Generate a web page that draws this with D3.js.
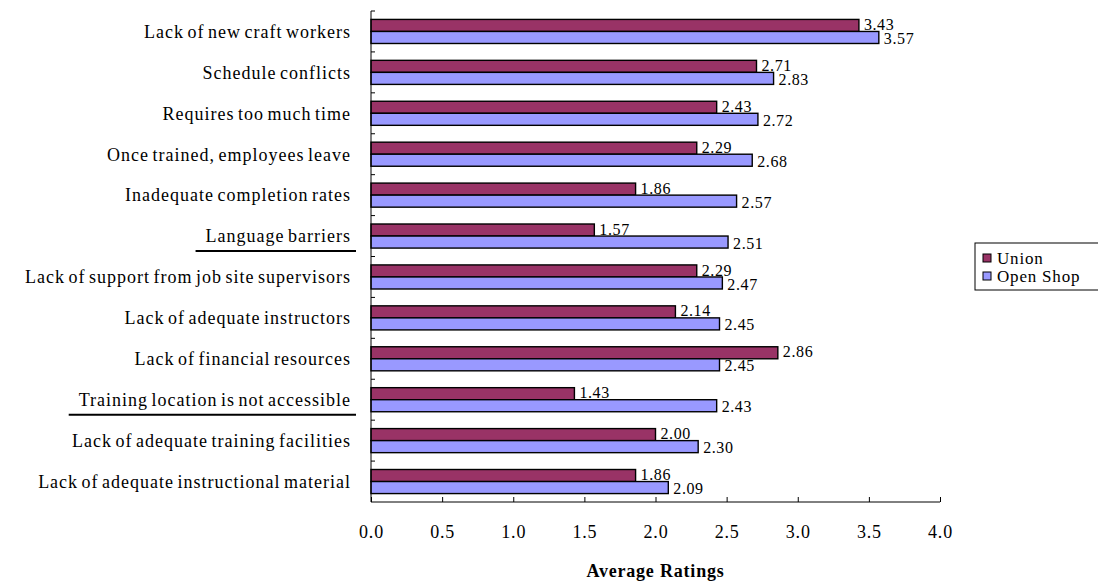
<!DOCTYPE html>
<html>
<head>
<meta charset="utf-8">
<script src="https://cdn.jsdelivr.net/npm/d3@7"></script>
<style>
  body { margin: 0; background: #fff; }
  svg { font-family: "Liberation Serif", "Times New Roman", serif; }
</style>
</head>
<body>
<div id="chart"></div>
<script>
const categories = [
  "Lack of new craft workers",
  "Schedule conflicts",
  "Requires too much time",
  "Once trained, employees leave",
  "Inadequate completion rates",
  "Language barriers",
  "Lack of support from job site supervisors",
  "Lack of adequate instructors",
  "Lack of financial resources",
  "Training location is not accessible",
  "Lack of adequate training facilities",
  "Lack of adequate instructional material"
];
const unionValues = [3.43, 2.71, 2.43, 2.29, 1.86, 1.57, 2.29, 2.14, 2.86, 1.43, 2.00, 1.86];
const openShopValues = [3.57, 2.83, 2.72, 2.68, 2.57, 2.51, 2.47, 2.45, 2.45, 2.43, 2.30, 2.09];
const seriesNames = ["Union", "Open Shop"];
const xTicks = [0, 0.5, 1, 1.5, 2, 2.5, 3, 3.5, 4];
const underlined = ["Language barriers", "Training location is not accessible"];

const W = 1098, H = 583;
const margin = { top: 11, left: 371, right: 158, bottom: 81 };
const colors = { "Union": "#993366", "Open Shop": "#9999ff" };

const svg = d3.select("#chart").append("svg").attr("width", W).attr("height", H);

const x = d3.scaleLinear().domain([0, 4]).range([margin.left, W - margin.right]);
const y = d3.scaleBand().domain(categories).range([margin.top, H - margin.bottom]);
const inner = d3.scaleBand().domain(seriesNames).range([0, y.bandwidth()]).paddingInner(0).paddingOuter(0.7);

const rows = categories.map((c, i) => ({ cat: c, vals: [unionValues[i], openShopValues[i]] }));

const g = svg.append("g");
const groups = g.selectAll("g.row").data(rows).enter().append("g")
  .attr("transform", d => `translate(0,${y(d.cat)})`);

groups.selectAll("rect").data(d => d.vals.map((v, k) => ({ s: seriesNames[k], v })))
  .enter().append("rect")
  .attr("x", x(0))
  .attr("y", d => inner(d.s))
  .attr("width", d => x(d.v) - x(0))
  .attr("height", inner.bandwidth())
  .attr("fill", d => colors[d.s])
  .attr("stroke", "#000")
  .attr("stroke-width", 1.4);

// value labels, union one nudged up a bit so the pair doesn't collide
groups.selectAll("text.val").data(d => d.vals.map((v, k) => ({ s: seriesNames[k], v })))
  .enter().append("text")
  .attr("class", "val")
  .attr("x", d => x(d.v) + 5)
  .attr("y", d => inner(d.s) + inner.bandwidth() / 2 + (d.s === "Union" ? -1 : 1))
  .attr("dy", "0.35em")
  .attr("font-size", 16)
  .attr("letter-spacing", 0.6)
  .text(d => d.v.toFixed(2));

// y axis
const yAxis = g.append("g");
yAxis.append("line")
  .attr("x1", x(0)).attr("x2", x(0))
  .attr("y1", margin.top).attr("y2", H - margin.bottom)
  .attr("stroke", "#000");
yAxis.selectAll("line.tk").data(d3.range(categories.length))
  .enter().append("line")
  .attr("x1", x(0)).attr("x2", x(0) + 4)
  .attr("y1", i => y(categories[i])).attr("y2", i => y(categories[i]))
  .attr("stroke", "#000");

const labels = yAxis.selectAll("text.cat").data(categories).enter().append("text")
  .attr("class", "cat")
  .attr("x", 351)
  .attr("y", d => y(d) + y.bandwidth() / 2)
  .attr("dy", "0.35em")
  .attr("text-anchor", "end")
  .attr("font-size", 18)
  .attr("letter-spacing", 1)
  .attr("word-spacing", -2)
  .text(d => d);

labels.filter(d => underlined.includes(d)).each(function(d) {
  const b = this.getBBox();
  yAxis.append("line")
    .attr("x1", b.x - 10).attr("x2", 356)
    .attr("y1", y(d) + y.bandwidth() / 2 + 15)
    .attr("y2", y(d) + y.bandwidth() / 2 + 15)
    .attr("stroke", "#000").attr("stroke-width", 2);
});

// x axis
const xAxis = g.append("g").attr("transform", `translate(0,${H - margin.bottom})`)
  .call(d3.axisBottom(x).tickValues(xTicks).tickSize(-5).tickPadding(23).tickFormat(d3.format(".1f")));
xAxis.select(".domain").attr("d", `M${x(0)},0H${x(4)}`);
xAxis.selectAll("text").attr("font-size", 18).attr("letter-spacing", 0.8)
  .attr("font-family", "Liberation Serif");

svg.append("text")
  .attr("x", (x(0) + x(4)) / 2)
  .attr("y", 577)
  .attr("text-anchor", "middle")
  .attr("font-size", 18)
  .attr("letter-spacing", 0.8)
  .attr("font-weight", "bold")
  .text("Average Ratings");

// legend
const leg = svg.append("g").attr("transform", "translate(975,243)");
leg.append("rect").attr("width", 130).attr("height", 47)
  .attr("fill", "#fff").attr("stroke", "#000");
seriesNames.forEach((s, i) => {
  const cy = 15 + i * 18;
  leg.append("rect").attr("x", 8).attr("y", cy - 4).attr("width", 8).attr("height", 8)
    .attr("fill", colors[s]).attr("stroke", "#000");
  leg.append("text").attr("x", 22).attr("y", cy).attr("dy", "0.35em")
    .attr("font-size", 17).attr("letter-spacing", 0.8).text(s);
});
</script>
</body>
</html>
